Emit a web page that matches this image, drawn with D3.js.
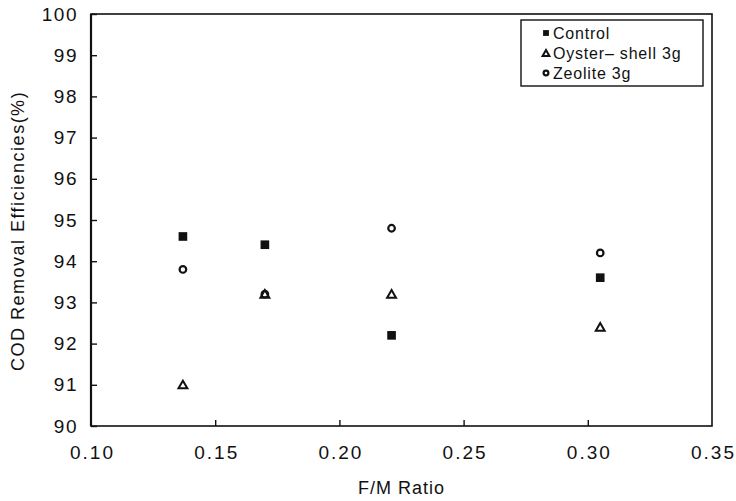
<!DOCTYPE html>
<html>
<head>
<meta charset="utf-8">
<script src="https://cdn.jsdelivr.net/npm/d3@7"></script>
<style>
  body { margin: 0; background: #fff; }
  text { font-family: "Liberation Sans", Arial, sans-serif; fill: #111; }
</style>
</head>
<body>
<svg id="chart"></svg>
<script>
// data
const fmRatio = [0.137, 0.170, 0.221, 0.305];
const control = [94.6, 94.4, 92.2, 93.6];
const oyster = [91.0, 93.2, 93.2, 92.4];
const zeolite = [93.8, 93.2, 94.8, 94.2];
const seriesNames = ["Control", "Oyster\u2013 shell 3g", "Zeolite 3g"];
const xTicks = [0.10, 0.15, 0.20, 0.25, 0.30, 0.35];
const yTicks = d3.range(90, 101);

const width = 736, height = 501;
const margin = {top: 14, right: 24, bottom: 75, left: 91};

const svg = d3.select("#chart")
    .attr("width", width)
    .attr("height", height);

const x = d3.scaleLinear().domain([0.10, 0.35]).range([margin.left, width - margin.right]);
const y = d3.scaleLinear().domain([90, 100]).range([height - margin.bottom, margin.top]);

// frame
svg.append("rect")
    .attr("x", x(0.10)).attr("y", y(100))
    .attr("width", x(0.35) - x(0.10))
    .attr("height", y(90) - y(100))
    .attr("fill", "none")
    .attr("stroke", "#111")
    .attr("stroke-width", 1.6);
// left axis drawn a bit heavier
svg.append("line")
    .attr("x1", x(0.10)).attr("x2", x(0.10))
    .attr("y1", y(100)).attr("y2", y(90))
    .attr("stroke", "#111")
    .attr("stroke-width", 2.2);

// y axis, ticks pointing inward
const yAxis = svg.append("g")
    .attr("transform", `translate(${x(0.10)},0)`)
    .call(d3.axisRight(y).tickValues(yTicks).tickSize(6).tickFormat(d3.format("d")));
yAxis.select(".domain").remove();
yAxis.selectAll("line").attr("stroke", "#111").attr("stroke-width", 1.4);
yAxis.selectAll("text")
    .attr("x", -13)
    .attr("text-anchor", "end")
    .style("font-size", "19px")
    .style("letter-spacing", "1.5px");

// x axis, ticks pointing inward
const xAxis = svg.append("g")
    .attr("transform", `translate(0,${y(90)})`)
    .call(d3.axisTop(x).tickValues(xTicks).tickSize(6).tickFormat(d3.format(".2f")));
xAxis.select(".domain").remove();
xAxis.selectAll("line")
    .attr("stroke", "#111").attr("stroke-width", 1.4)
    .attr("display", d => (d === 0.10 || d === 0.35) ? "none" : null);
xAxis.selectAll("text")
    .attr("x", 1)
    .attr("y", 27)
    .attr("dy", "0.32em")
    .style("font-size", "19px")
    .style("letter-spacing", "2px");

// axis titles
svg.append("text")
    .attr("x", (x(0.10) + x(0.35)) / 2)
    .attr("y", 494)
    .attr("text-anchor", "middle")
    .style("font-size", "18px")
    .style("letter-spacing", "1px")
    .text("F/M Ratio");

svg.append("text")
    .attr("transform", `translate(24,${(y(90) + y(100)) / 2 + 11}) rotate(-90)`)
    .attr("text-anchor", "middle")
    .style("font-size", "18px")
    .style("letter-spacing", "1.5px")
    .text("COD Removal Efficiencies(%)");

// markers
const sym = {
    square: d3.symbol().type(d3.symbolSquare),
    triangle: d3.symbol().type(d3.symbolTriangle),
    circle: d3.symbol().type(d3.symbolCircle)
};

function drawSquare(g, cx, cy, size) {
    g.append("path")
        .attr("d", sym.square.size(size)())
        .attr("transform", `translate(${cx},${cy})`)
        .attr("fill", "#111");
}
function drawTriangle(g, cx, cy, size) {
    g.append("path")
        .attr("d", sym.triangle.size(size)())
        .attr("transform", `translate(${cx},${cy + 1})`)
        .attr("fill", "#fff")
        .attr("stroke", "#111")
        .attr("stroke-width", 2);
}
function drawCircle(g, cx, cy, size) {
    g.append("path")
        .attr("d", sym.circle.size(size)())
        .attr("transform", `translate(${cx},${cy})`)
        .attr("fill", "none")
        .attr("stroke", "#111")
        .attr("stroke-width", 2.2);
}

const pts = svg.append("g");
fmRatio.forEach((fm, i) => {
    drawSquare(pts, x(fm), y(control[i]), 75);
    drawTriangle(pts, x(fm), y(oyster[i]), 34);
    drawCircle(pts, x(fm), y(zeolite[i]), 34);
});

// legend
const legend = svg.append("g");
legend.append("rect")
    .attr("x", 521).attr("y", 20)
    .attr("width", 182).attr("height", 66)
    .attr("fill", "#fff")
    .attr("stroke", "#111")
    .attr("stroke-width", 1.4);

const drawers = [drawSquare, drawTriangle, drawCircle];
const legSizes = [34, 20, 18];
seriesNames.forEach((name, i) => {
    const ly = 33 + i * 20;
    drawers[i](legend, 546, ly, legSizes[i]);
    legend.append("text")
        .attr("x", 553)
        .attr("y", ly)
        .attr("dy", "0.35em")
        .style("font-size", "16px")
        .style("letter-spacing", "0.8px")
        .text(name);
});
</script>
</body>
</html>
